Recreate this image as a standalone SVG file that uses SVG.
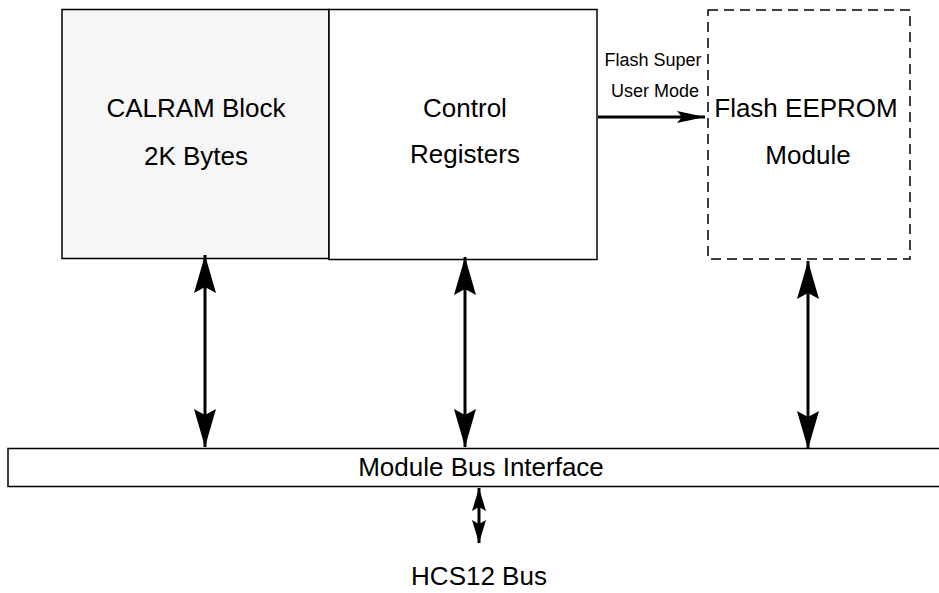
<svg xmlns="http://www.w3.org/2000/svg" width="939" height="593" viewBox="0 0 939 593">
<style>
text{font-family:"Liberation Sans",Arial,sans-serif;fill:#000;text-anchor:middle}
.big{font-size:26px}
.small{font-size:18px}
.box{stroke:#000;stroke-width:1.5}
.wire{stroke:#000;stroke-width:3;fill:none}
</style>
<defs>
<marker id="ah" markerUnits="userSpaceOnUse" markerWidth="40" markerHeight="24" refX="38" refY="11" orient="auto-start-reverse" viewBox="0 0 40 22">
<path d="M0,0 L38,11 L0,22 L6,11 Z" fill="#000"/>
</marker>
<marker id="ahs" markerUnits="userSpaceOnUse" markerWidth="24" markerHeight="16" refX="23" refY="7" orient="auto-start-reverse" viewBox="0 0 24 14">
<path d="M0,0 L23,7 L0,14 L4,7 Z" fill="#000"/>
</marker>
<marker id="ahm" markerUnits="userSpaceOnUse" markerWidth="30" markerHeight="14" refX="28" refY="6" orient="auto" viewBox="0 0 30 12">
<path d="M0,0 L28,6 L0,12 L5,6 Z" fill="#000"/>
</marker>
</defs>
<g id="calram">
<rect class="box" x="62" y="9.5" width="267" height="249" fill="#f6f6f6"/>
<text class="big" x="196" y="117">CALRAM Block</text>
<text class="big" x="196" y="165">2K Bytes</text>
</g>
<g id="control">
<rect class="box" x="329" y="9.5" width="268" height="250" fill="#fff"/>
<text class="big" x="465" y="117">Control</text>
<text class="big" x="465" y="163">Registers</text>
</g>
<g id="flash">
<rect x="708" y="10" width="202" height="249" fill="#fff" stroke="#000" stroke-width="1.5" stroke-dasharray="10,6"/>
<text class="big" x="806" y="117">Flash EEPROM</text>
<text class="big" x="808" y="164">Module</text>
</g>
<g id="bus">
<rect class="box" x="8" y="448.5" width="940" height="38" fill="#fff"/>
<text class="big" x="481" y="476">Module Bus Interface</text>
</g>
<g id="hcs12">
<text class="big" x="479" y="585">HCS12 Bus</text>
</g>
<g id="connectors">
<line class="wire" x1="205" y1="255" x2="205" y2="447" marker-start="url(#ah)" marker-end="url(#ah)"/>
<line class="wire" x1="465" y1="257" x2="465" y2="447" marker-start="url(#ah)" marker-end="url(#ah)"/>
<line class="wire" x1="808" y1="261" x2="808" y2="449" marker-start="url(#ah)" marker-end="url(#ah)"/>
<line class="wire" x1="479" y1="488" x2="479" y2="543" stroke-width="2" marker-start="url(#ahs)" marker-end="url(#ahs)"/>
<line class="wire" x1="598" y1="117" x2="705" y2="117" marker-end="url(#ahm)"/>
<text class="small" x="653" y="66">Flash Super</text>
<text class="small" x="655" y="97">User Mode</text>
</g>
</svg>
